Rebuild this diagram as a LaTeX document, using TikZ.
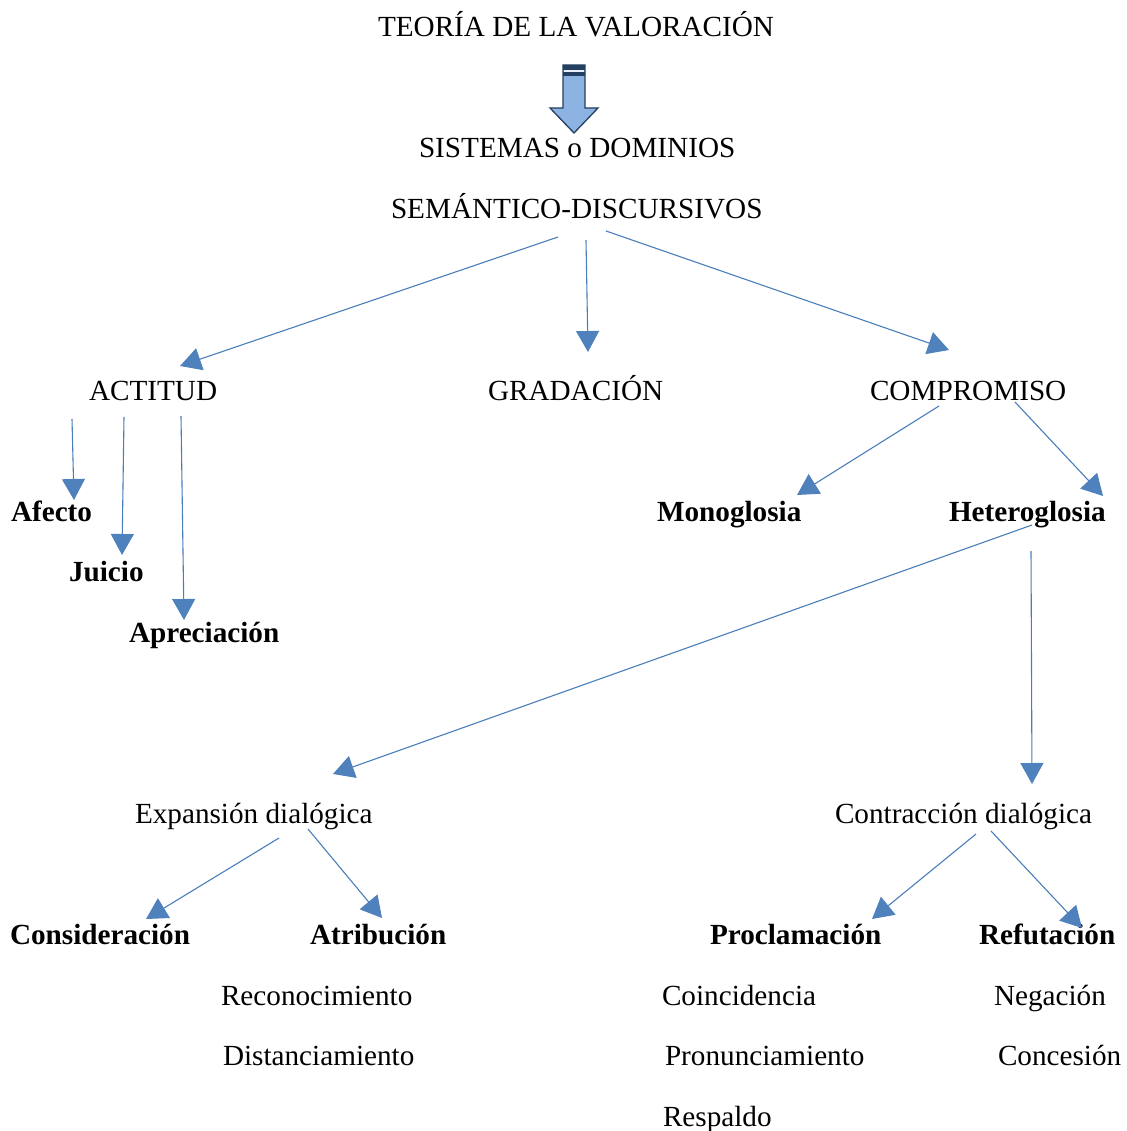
\documentclass[tikz,border=0pt]{standalone}
\usepackage{fontspec}
\setmainfont{Liberation Serif}
\usetikzlibrary{arrows.meta}
\definecolor{linkblue}{HTML}{4A7EBB}
\definecolor{tipblue}{HTML}{4F81BD}
\definecolor{arrowfill}{HTML}{8DB3E2}
\definecolor{arrowedge}{HTML}{243F60}
\tikzset{
  lbl/.style={anchor=base west, inner sep=0pt, outer sep=0pt,
    font=\fontsize{29.2}{35}\selectfont},
  blbl/.style={lbl, font=\fontsize{29.2}{35}\selectfont\bfseries},
  link/.style={draw=linkblue, line width=1.1pt,
    -{Triangle[length=21pt,width=23pt,fill=tipblue,color=tipblue]}},
}
\begin{document}
\begin{tikzpicture}[x=1pt, y=-1pt]
\useasboundingbox (0,0) rectangle (1126,1131);

% title and block arrow
\node[lbl] (teoria) at (378,37) {TEORÍA DE LA VALORACIÓN};
\draw[draw=arrowedge, fill=arrowfill, line width=1.3pt, line join=miter]
  (563,65) -- (585,65) -- (585,108) -- (598,108) -- (574,133) -- (550,108) -- (563,108) -- cycle;
\fill[arrowedge] (563,65) rectangle (585,70.5);
\fill[white!80!arrowfill] (564,70.5) rectangle (584,72.5);
\fill[arrowedge] (563,72.5) rectangle (585,76);

\node[lbl] (sist) at (419,158) {SISTEMAS o DOMINIOS};
\node[lbl] (sem) at (391,218.5) {SEMÁNTICO-DISCURSIVOS};

% first level
\node[lbl] (act) at (89,400) {ACTITUD};
\node[lbl] (grad) at (488,400) {GRADACIÓN};
\node[lbl] (comp) at (870,400) {COMPROMISO};

\node[blbl] (afecto) at (11,521) {Afecto};
\node[blbl] (juicio) at (69,581.5) {Juicio};
\node[blbl] (apre) at (129,642) {Apreciación};

\node[blbl] (mono) at (657,521) {Monoglosia};
\node[blbl] (hetero) at (949,521) {Heteroglosia};

% dialogic branches
\node[lbl] (expa) at (135,823.5) {Expansión dialógica};
\node[lbl] (contr) at (835,823.5) {Contracción dialógica};

\node[blbl] (consi) at (10,944.5) {Consideración};
\node[blbl] (atri) at (310,944.5) {Atribución};
\node[blbl] (procl) at (710,944.5) {Proclamación};
\node[blbl] (refu) at (979,944.5) {Refutación};

\node[lbl] (recon) at (221,1005) {Reconocimiento};
\node[lbl] (dista) at (223,1065.5) {Distanciamiento};
\node[lbl] (coinc) at (662,1005) {Coincidencia};
\node[lbl] (pronu) at (665,1065.5) {Pronunciamiento};
\node[lbl] (respa) at (663,1126) {Respaldo};
\node[lbl] (nega) at (994,1005) {Negación};
\node[lbl] (conce) at (998,1065.5) {Concesión};

% connector end points
\coordinate (semA) at (558,237);  \coordinate (actT) at (180,366);
\coordinate (semB) at (586,240);  \coordinate (gradT) at (588,352);
\coordinate (semC) at (606,231);  \coordinate (compT) at (949,350);
\coordinate (actA) at (72,419);   \coordinate (afectoT) at (74,500);
\coordinate (actB) at (124,417);  \coordinate (juicioT) at (122,555);
\coordinate (actC) at (181,416);  \coordinate (apreT) at (184,620);
\coordinate (compA) at (939,406); \coordinate (monoT) at (797,495);
\coordinate (compB) at (1015,402);\coordinate (heteroT) at (1103,496);
\coordinate (hetA) at (1032,525); \coordinate (expaT) at (333,774);
\coordinate (hetB) at (1031,551); \coordinate (contrT) at (1032,784);
\coordinate (expA) at (279,838);  \coordinate (consiT) at (146,919);
\coordinate (expB) at (308,829);  \coordinate (atriT) at (382,918);
\coordinate (conA) at (976,834);  \coordinate (proclT) at (872,919);
\coordinate (conB) at (991,831);  \coordinate (refuT) at (1082,928);

\draw[link] (semA) -- (actT);
\draw[link] (semB) -- (gradT);
\draw[link] (semC) -- (compT);
\draw[link] (actA) -- (afectoT);
\draw[link] (actB) -- (juicioT);
\draw[link] (actC) -- (apreT);
\draw[link] (compA) -- (monoT);
\draw[link] (compB) -- (heteroT);
\draw[link] (hetA) -- (expaT);
\draw[link] (hetB) -- (contrT);
\draw[link] (expA) -- (consiT);
\draw[link] (expB) -- (atriT);
\draw[link] (conA) -- (proclT);
\draw[link] (conB) -- (refuT);
\end{tikzpicture}
\end{document}
